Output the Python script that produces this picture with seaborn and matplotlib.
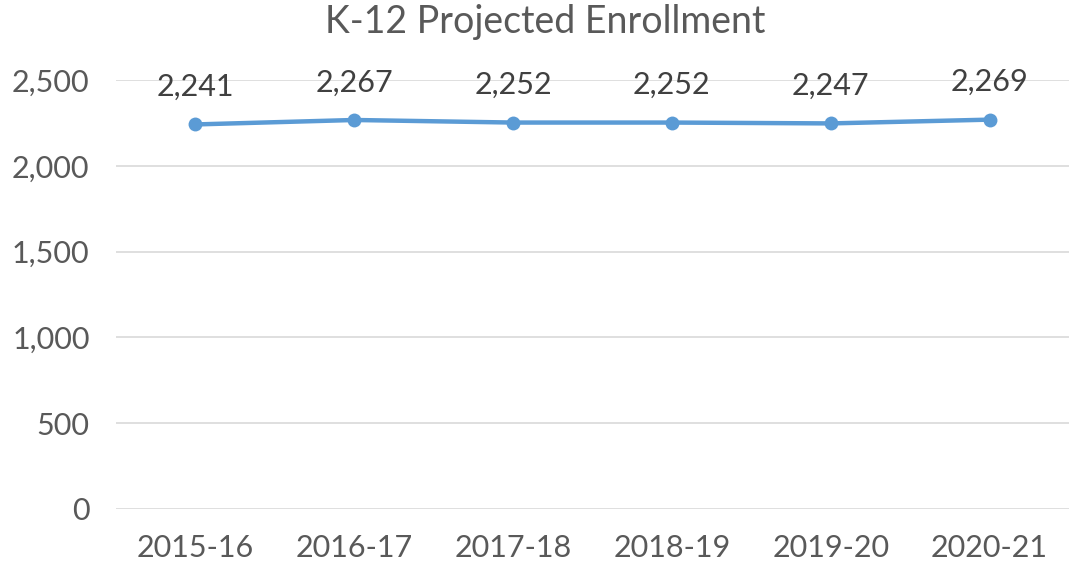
import matplotlib
matplotlib.use("Agg")
import matplotlib.pyplot as plt
import seaborn as sns
import pandas as pd

years = ["2015-16", "2016-17", "2017-18", "2018-19", "2019-20", "2020-21"]
enrollment = [2241, 2267, 2252, 2252, 2247, 2269]
y_ticks = [0, 500, 1000, 1500, 2000, 2500]

df = pd.DataFrame({"year": years, "enrollment": enrollment})

sns.set_style("white")
plt.rcParams["font.family"] = ["Lato", "DejaVu Sans"]
text_color = "#595959"
line_color = "#5B9BD5"

fig = plt.figure(figsize=(10.69, 5.66), dpi=100)
ax = fig.add_axes([116 / 1069, 1 - 509 / 566, 953 / 1069, 429 / 566])

sns.lineplot(data=df, x="year", y="enrollment", ax=ax, color=line_color,
             linewidth=3.2, marker="o", markersize=10, markeredgewidth=0,
             sort=False)

for i, v in enumerate(enrollment):
    ax.annotate(f"{v:,}", (i, v), xytext=(0, 17), textcoords="offset points",
                ha="center", va="bottom", fontsize=22, color="#404040")

ax.set_xlim(-0.5, len(years) - 0.5)
ax.set_ylim(0, 2500)
ax.set_yticks(y_ticks)
ax.set_yticklabels([f"{t:,}" for t in y_ticks])
ax.yaxis.grid(True, color="#D9D9D9", linewidth=1.2)
ax.set_axisbelow(True)
for s in ax.spines.values():
    s.set_visible(False)
ax.tick_params(axis="both", length=0, labelsize=22, colors=text_color)
ax.tick_params(axis="x", pad=18)
ax.tick_params(axis="y", pad=19)
ax.set_xlabel("")
ax.set_ylabel("")

fig.text(545 / 1069, 1 - 22 / 566, "K-12 Projected Enrollment", ha="center",
         va="center", fontsize=27, color=text_color)

fig.savefig("out.png", dpi=100)
